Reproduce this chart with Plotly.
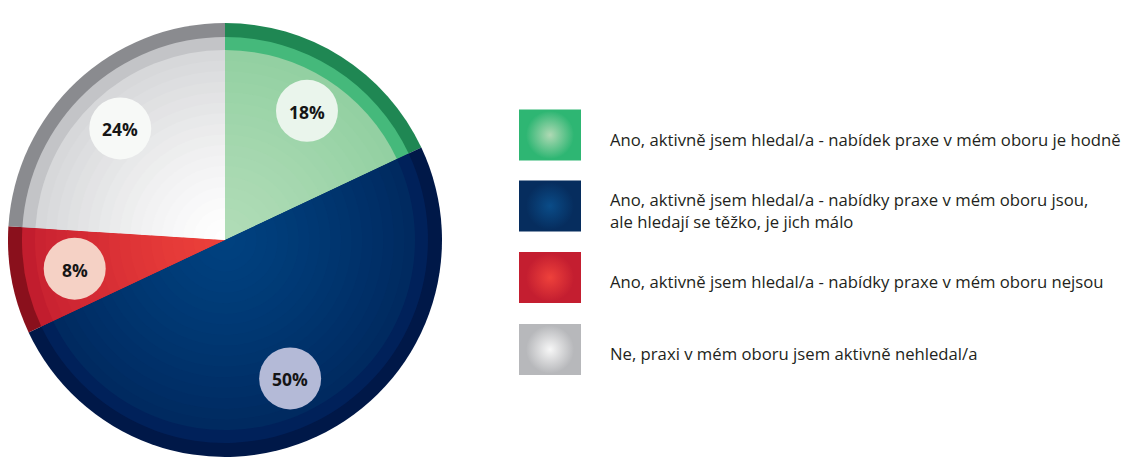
import plotly.graph_objects as go
import numpy as np

# ---------------- data ----------------
categories = [
    "Ano, aktivně jsem hledal/a - nabídek praxe v mém oboru je hodně",
    "Ano, aktivně jsem hledal/a - nabídky praxe v mém oboru jsou,<br>ale hledají se těžko, je jich málo",
    "Ano, aktivně jsem hledal/a - nabídky praxe v mém oboru nejsou",
    "Ne, praxi v mém oboru jsem aktivně nehledal/a",
]
values = [18, 50, 8, 24]
value_labels = ["18%", "50%", "8%", "24%"]

# ---------------- style ----------------
W, H = 1133, 462
OFF = 8  # page body margin; axis units = window pixels
CX, CY, R = 225.0, 240.0, 217.0
RIM1, RIM2 = 14, 13
LAB_R = 153
BADGE_R = 31

outer_colors = ["#1f8753", "#001848", "#8a101c", "#8a8b8f"]
mid_colors = ["#45b97b", "#00215a", "#c21d2e", "#c3c4c7"]
inner_edge = ["#92d0a1", "#00295f", "#c92231", "#d6d7d9"]
inner_center = ["#b0dcb7", "#00417f", "#ec403a", "#ffffff"]
badge_colors = ["#eaf5ec", "#b4bad7", "#f5d1c5", "#f7f9f7"]
legend_edge = ["#2eb673", "#062d5e", "#c41e30", "#b7b8bb"]
legend_center = ["#afd9b4", "#0a4c88", "#ee413b", "#f7f7f7"]
legend_rows = [135, 206, 277.5, 349.5]
LEG_X0, LEG_X1, LEG_H = 519, 581, 51
TEXT_X = 608


def hex2rgb(h):
    h = h.lstrip("#")
    return np.array([int(h[i:i + 2], 16) for i in (0, 2, 4)], dtype=float)


def lerp(c1, c2, t):
    c = hex2rgb(c1) * (1 - t) + hex2rgb(c2) * t
    return "rgb(%d,%d,%d)" % tuple(np.round(c).astype(int))


def pie_layer(r, colors):
    cx, cy = CX - OFF, CY - OFF
    return go.Pie(
        values=values,
        labels=categories,
        sort=False,
        direction="clockwise",
        rotation=0,
        marker=dict(colors=colors, line=dict(width=0)),
        textinfo="none",
        hoverinfo="skip",
        showlegend=False,
        domain=dict(
            x=[max(0, (cx - r) / W), (cx + r) / W],
            y=[(H - cy - r) / H, (H - cy + r) / H],
        ),
    )


fig = go.Figure()

# outer rims
fig.add_trace(pie_layer(R, outer_colors))
fig.add_trace(pie_layer(R - RIM1, mid_colors))

# inner radial gradient built from concentric pies
r_in = R - RIM1 - RIM2
N = 18
for k in range(N):
    frac = 1 - k / N
    r = r_in * frac
    t = (frac - 0.5 / N) ** 1.3
    cols = [lerp(c, e, t) for c, e in zip(inner_center, inner_edge)]
    fig.add_trace(pie_layer(r, cols))

# value badges (positioned at the middle angle of each slice)
cum = np.cumsum([0] + values[:-1])
total = sum(values)
shapes = []
annotations = []
for v, c0, lab, bc in zip(values, cum, value_labels, badge_colors):
    theta = np.deg2rad((c0 + v / 2) / total * 360)
    lx = CX + LAB_R * np.sin(theta)
    ly = CY - LAB_R * np.cos(theta)
    shapes.append(dict(type="circle", xref="x", yref="y",
                       x0=lx - BADGE_R, x1=lx + BADGE_R,
                       y0=ly - BADGE_R, y1=ly + BADGE_R,
                       fillcolor=bc, line=dict(width=0), layer="above"))
    annotations.append(dict(x=lx, y=ly + 1, xref="x", yref="y", text="<b>%s</b>" % lab,
                            showarrow=False, xanchor="center", yanchor="middle",
                            font=dict(family="Open Sans", size=17.5, color="#151515")))

# legend
for cat, row, ec in zip(categories, legend_rows, legend_edge):
    shapes.append(dict(type="rect", xref="x", yref="y",
                       x0=LEG_X0, x1=LEG_X1, y0=row - LEG_H / 2, y1=row + LEG_H / 2,
                       fillcolor=ec, line=dict(width=0), layer="below"))
    annotations.append(dict(x=TEXT_X, y=row + 4, xref="x", yref="y", text=cat,
                            showarrow=False, xanchor="left", yanchor="middle", align="left",
                            font=dict(family="Open Sans", size=16.7, color="#231f20")))

fig.add_trace(go.Scatter(
    x=[(LEG_X0 + LEG_X1) / 2] * len(legend_rows),
    y=legend_rows,
    mode="markers",
    marker=dict(symbol="circle", size=48, color=legend_edge,
                gradient=dict(type="radial", color=legend_center),
                line=dict(width=0)),
    hoverinfo="skip",
    showlegend=False,
    cliponaxis=False,
))

fig.update_layout(
    width=W, height=H,
    margin=dict(l=0, r=0, t=0, b=0),
    paper_bgcolor="white", plot_bgcolor="white",
    xaxis=dict(range=[OFF, W + OFF], visible=False, fixedrange=True),
    yaxis=dict(range=[H + OFF, OFF], visible=False, fixedrange=True),
    shapes=shapes,
    annotations=annotations,
    showlegend=False,
)

fig.write_html("out.html")
